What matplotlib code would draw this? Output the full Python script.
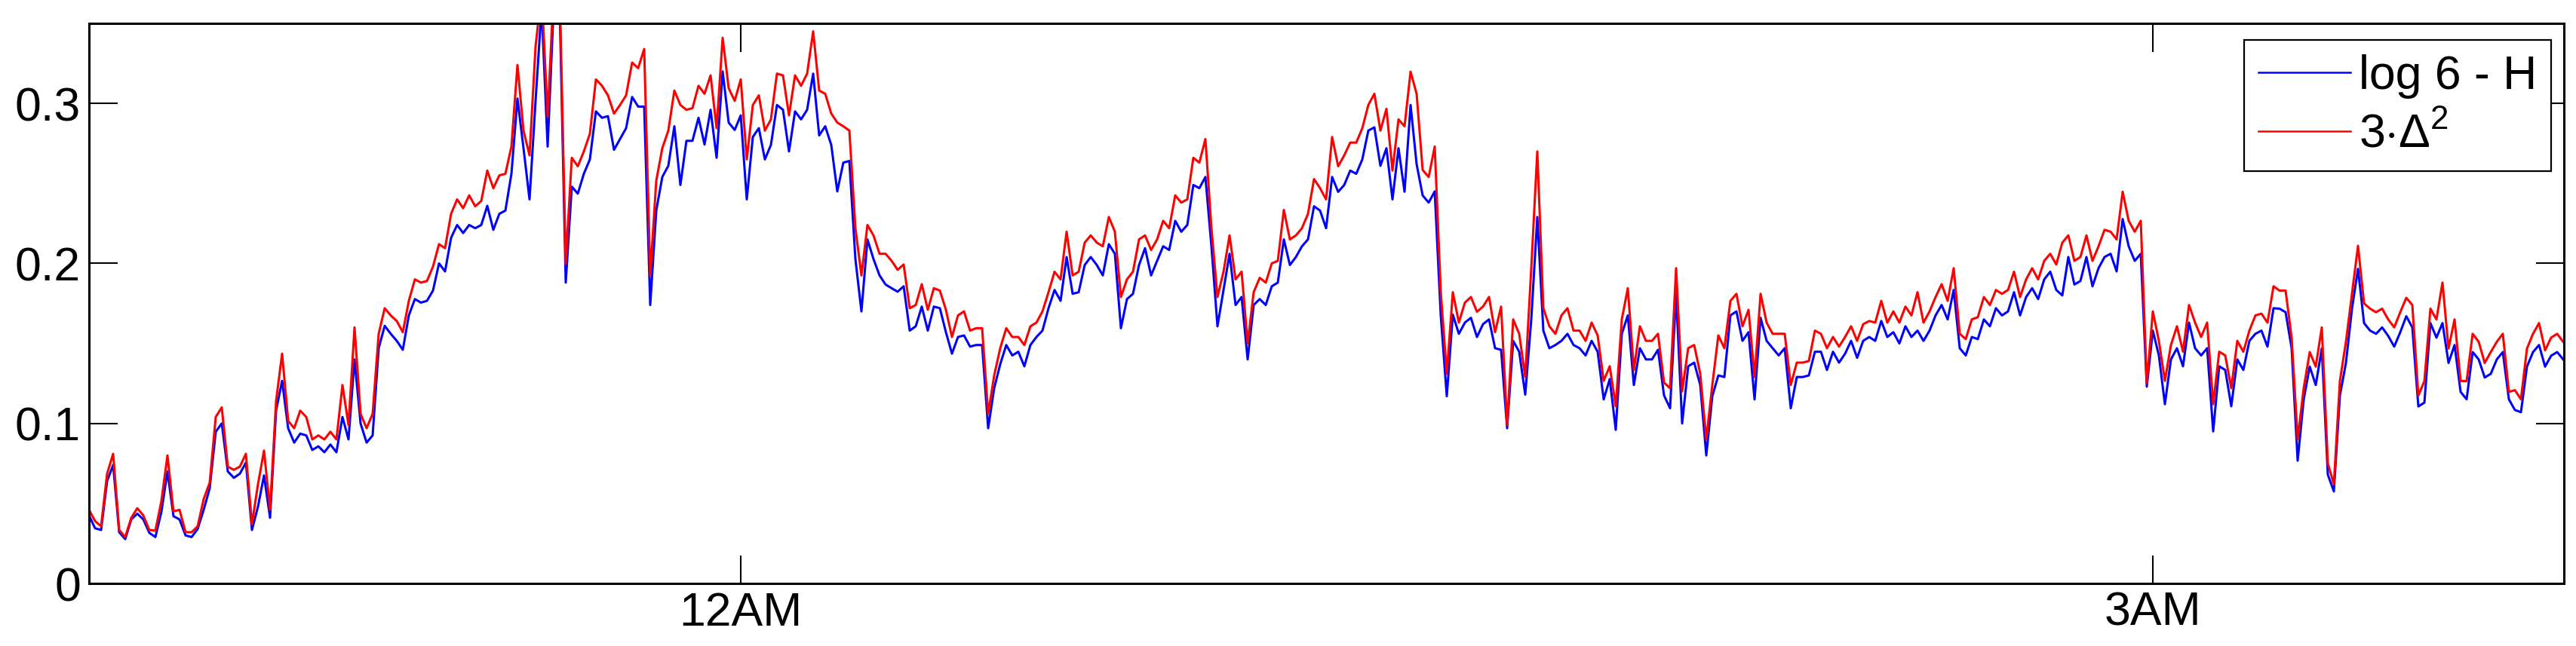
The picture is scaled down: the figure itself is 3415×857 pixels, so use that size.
import numpy as np
import matplotlib
matplotlib.use('Agg')
import matplotlib.pyplot as plt

plt.rcParams['font.family'] = ['Liberation Sans', 'DejaVu Sans']
plt.rcParams['mathtext.fontset'] = 'custom'
plt.rcParams['mathtext.rm'] = 'Liberation Sans'
plt.rcParams['mathtext.it'] = 'Liberation Sans'

# samples, one every ~46 s starting about 10:37 PM
t_start = 22.615      # hours after the previous midnight
t_step = 8 / 624      # hours between samples

# log 6 - H  (blue)
entropy_gap = [
    # 10:37 PM -
    .0425, .0345, .0334, .064, .074, .032, .0277, .040, .0436, .040,
    .0316, .029, .0448, .070, .042, .040, .030, .029, .034, .046,
    .0595, .0948, .100, .070, .066, .0686, .0755, .0334, .048, .0675,
    .041, .108, .1266, .097, .088, .0936, .0925, .0834, .0857, .082,
    .0868, .082, .104, .090, .140, .100, .088, .0925, .147, .161,
    .156, .1516,
    # 11:17 PM -
    .146, .1675, .1777, .1755, .1766, .183, .200, .195, .216, .224,
    .219, .224, .222, .224, .236, .221, .231, .233, .256, .303,
    .272, .240, .3016, .36, .273, .36, .36, .188, .248, .2436,
    .256, .265, .295, .291, .292, .271, .2777, .2845, .304, .298,
    .298, .174, .233, .254, .261, .2857, .249, .2766, .2766, .291,
    .2743, .296,
    # 11:57 PM -
    .266, .320, .288, .2834, .2925, .240, .279, .2845, .265, .274,
    .299, .296, .270, .295, .290, .296, .3186, .280, .2857, .274,
    .245, .263, .264, .2027, .170, .215, .2027, .1925, .1868, .1845,
    .1823, .1857, .158, .1607, .173, .158, .173, .172, .157, .1436,
    .154, .155, .148, .149, .149, .097, .122, .137, .149, .1425,
    .1448, .1357,
    # 12:37 AM -
    .149, .154, .158, .172, .1834, .1766, .204, .181, .182, .199,
    .204, .199, .1925, .212, .206, .1595, .1777, .181, .199, .2095,
    .1925, .2016, .2107, .2084, .2266, .2198, .224, .249, .247, .254,
    .2107, .1607, .1834, .206, .174, .179, .140, .174, .1777, .174,
    .1857, .188, .215, .199, .204, .2107, .215, .2357, .233, .222,
    .254, .2447,
    # 1:17 AM -
    .249, .258, .256, .265, .283, .285, .261, .272, .240, .272,
    .2448, .299, .262, .2425, .238, .245, .1675, .117, .168, .156,
    .163, .166, .154, .162, .165, .147, .146, .097, .1516, .1448,
    .118, .165, .229, .158, .147, .149, .1516, .156, .149, .147,
    .1425, .1516, .1448, .115, .1277, .096, .156, .1675, .124, .147,
    .140, .140,
    # 1:57 AM -
    .146, .1175, .1095, .181, .100, .1357, .138, .124, .080, .117,
    .130, .129, .1675, .170, .1516, .157, .115, .166, .1516, .147,
    .1425, .147, .1095, .129, .129, .130, .1448, .1448, .1334, .1448,
    .138, .1436, .1516, .141, .1516, .154, .1516, .164, .154, .157,
    .150, .1607, .154, .158, .1516, .158, .1675, .174, .165, .1834,
    .147,
    # 2:37 AM -
    .1425, .154, .1527, .165, .1607, .172, .1675, .170, .182, .1675,
    .179, .1845, .1777, .190, .1948, .1834, .180, .204, .1868, .189,
    .204, .1857, .197, .204, .206, .195, .2277, .2107, .2016, .206,
    .123, .158, .1425, .112, .140, .147, .1357, .163, .147, .1425,
    .147, .095, .1357, .1334, .1107, .140, .1334, .1516, .156, .158,
    .148, .172,
    # 3:16 AM -
    .1717, .1695, .147, .0767, .115, .1355, .124, .1468, .068, .0575,
    .1174, .1378, .1717, .1966, .1627, .158, .156, .160, .1547, .148,
    .157, .167, .160, .1106, .113, .1627, .1536, .1627, .1378, .149,
    .1197, .1151, .1446, .140, .1287, .131, .140, .1446, .1151, .1084,
    .107, .1355, .1446, .149, .1355, .1423, .1446, .140,
]

# 3 * Delta^2  (red)
delta_sq = [
    .046, .039, .0357, .0686, .081, .0334, .029, .041, .047, .0425,
    .0334, .033, .0516, .080, .045, .046, .032, .032, .0357, .0527,
    .063, .104, .110, .073, .071, .073, .081, .037, .062, .083,
    .046, .114, .1436, .1016, .097, .108, .104, .090, .0925, .090,
    .0948, .090, .124, .099, .160, .106, .097, .106, .156, .172,
    .1675, .164,
    .157, .1766, .190, .188, .189, .198, .212, .2095, .231, .240,
    .2345, .2425, .2357, .239, .258, .247, .255, .256, .273, .324,
    .283, .2675, .3357, .37, .292, .37, .37, .200, .266, .2607,
    .270, .281, .315, .311, .305, .2936, .299, .305, .3255, .322,
    .334, .1925, .2516, .272, .283, .308, .299, .296, .297, .311,
    .306, .3175,
    .2845, .341, .3095, .3016, .315, .265, .299, .305, .283, .290,
    .3186, .3175, .2925, .3175, .311, .3186, .345, .308, .306, .2936,
    .288, .2857, .283, .222, .1925, .224, .2175, .206, .206, .2016,
    .196, .1993, .172, .174, .187, .171, .1845, .183, .171, .154,
    .1675, .170, .158, .1595, .1595, .106, .130, .147, .1595, .154,
    .154, .149,
    .1607, .163, .170, .182, .1948, .190, .2198, .1925, .1948, .213,
    .2175, .213, .2107, .229, .2198, .179, .190, .1948, .215, .2175,
    .2084, .215, .2266, .222, .2425, .238, .240, .266, .263, .2777,
    .222, .179, .1948, .2175, .190, .1948, .150, .182, .191, .188,
    .200, .2016, .2334, .215, .2175, .222, .231, .2527, .247, .240,
    .279, .2607,
    .2675, .2755, .2755, .2845, .299, .306, .283, .2966, .258, .290,
    .2857, .3198, .306, .2584, .254, .273, .182, .131, .182, .163,
    .1755, .179, .1698, .173, .179, .157, .173, .099, .165, .156,
    .129, .197, .270, .172, .1607, .156, .1675, .172, .158, .158,
    .1516, .163, .155, .1266, .1357, .1107, .165, .1845, .1334, .1607,
    .1516, .1516,
    .156, .1255, .122, .197, .120, .147, .149, .131, .090, .124,
    .155, .147, .1766, .181, .1607, .171, .129, .181, .163, .156,
    .156, .156, .124, .138, .138, .139, .158, .156, .147, .154,
    .148, .154, .1607, .1516, .162, .164, .163, .1766, .163, .170,
    .163, .173, .1675, .182, .163, .170, .179, .187, .1766, .197,
    .156,
    .1527, .165, .1664, .179, .174, .1834, .181, .1834, .1948, .179,
    .190, .197, .190, .2016, .206, .1993, .213, .2175, .2016, .204,
    .2175, .2016, .2107, .221, .2198, .215, .2448, .2266, .2198, .2266,
    .125, .170, .1516, .1266, .149, .1607, .1448, .174, .163, .154,
    .163, .112, .1448, .1425, .122, .1516, .1448, .158, .1675, .1686,
    .163, .1857,
    .183, .183, .1536, .090, .122, .1446, .1355, .160, .075, .062,
    .1265, .151, .1808, .211, .175, .1717, .1695, .1717, .165, .160,
    .1695, .1785, .174, .1174, .1265, .1717, .165, .188, .1468, .165,
    .1265, .1265, .156, .151, .1378, .1446, .151, .156, .1197, .1208,
    .1151, .1468, .156, .1627, .1457, .1536, .156, .151,
]

xtick_hours = [24, 27]
xtick_labels = ['12AM', '3AM']
ytick_values = [0, 0.1, 0.2, 0.3]
ytick_labels = ['0', '0.1', '0.2', '0.3']

times = t_start + t_step * np.arange(len(entropy_gap))

fig = plt.figure(figsize=(34.16, 8.57), dpi=100)
ax = fig.add_axes([118 / 3416, 83 / 857, 3281 / 3416, 743 / 857])

ax.plot(times, entropy_gap, color='blue', lw=2.2, label='log 6 - H')
ax.plot(times, delta_sq, color='red', lw=2.2, label=r'3$\cdot\Delta^{2}$')

ax.set_xlim(22.615, 27.873)
ax.set_ylim(0, 0.35)
ax.set_xticks(xtick_hours)
ax.set_xticklabels(xtick_labels)
ax.set_yticks(ytick_values)
ax.set_yticklabels(ytick_labels)

ax.tick_params(direction='in', length=27, width=1.5, labelsize=45,
               top=True, right=True)
ax.tick_params(axis='x', pad=7)
ax.tick_params(axis='y', pad=8)
for sp in ax.spines.values():
    sp.set_linewidth(2.2)

leg = ax.legend(loc='upper right', bbox_to_anchor=(0.9948, 0.9704),
                borderaxespad=0, fontsize=45, handlelength=1.95,
                handletextpad=0.18, borderpad=0.3, labelspacing=0.3,
                fancybox=False, framealpha=1, edgecolor='black')
leg.get_frame().set_linewidth(1.6)
for line in leg.get_lines():
    line.set_linewidth(1.8)

fig.savefig('out.png', dpi=100)
